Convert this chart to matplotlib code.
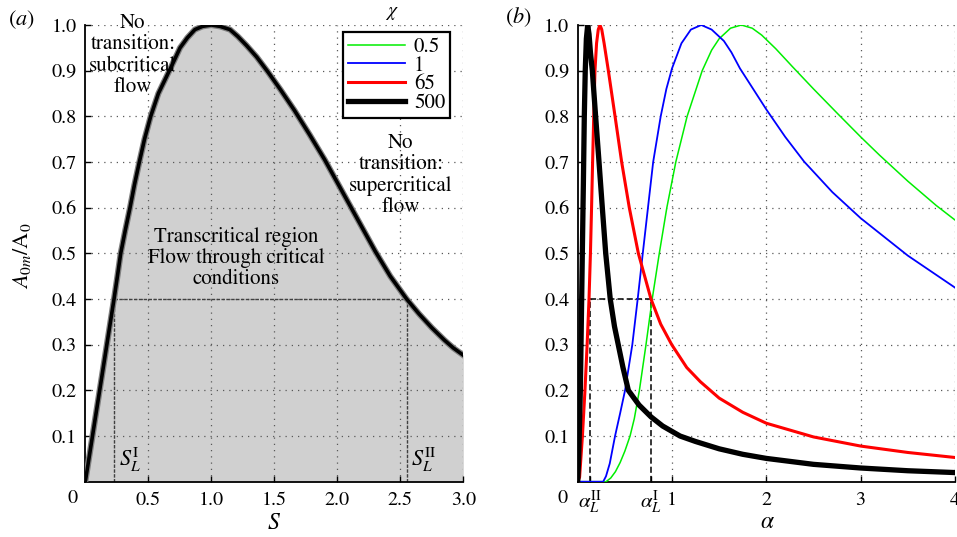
import numpy as np
import matplotlib.pyplot as plt

plt.rcParams['font.family'] = ['STIXGeneral', 'DejaVu Serif']
plt.rcParams['mathtext.fontset'] = 'stix'

# (a) A0m/A0 against S
s_vals = [0, 0.057, 0.114, 0.171, 0.228, 0.255, 0.281, 0.317, 0.355, 0.39, 0.429, 0.47,
          0.519, 0.58, 0.667, 0.71, 0.752, 0.81, 0.87, 0.93, 1.0, 1.07, 1.148, 1.21,
          1.28, 1.36, 1.45, 1.55, 1.66, 1.78, 1.90, 2.0, 2.1, 2.2, 2.3, 2.42, 2.55,
          2.65, 2.75, 2.85, 2.92, 3.0]
a_vals = [0, 0.1, 0.2, 0.3, 0.4, 0.45, 0.5, 0.55, 0.6, 0.65, 0.7, 0.75,
          0.8, 0.85, 0.9, 0.925, 0.95, 0.972, 0.99, 0.997, 1.0, 0.997, 0.99, 0.975,
          0.955, 0.93, 0.897, 0.858, 0.813, 0.76, 0.705, 0.655, 0.605, 0.555, 0.505, 0.45,
          0.4, 0.367, 0.337, 0.31, 0.293, 0.277]
s_L1, s_L2 = 0.228, 2.556

# (b) curves against alpha, one per chi
chi_labels = ['0.5', '1', '65', '500']
chi_colors = ['#00ee00', '#0000ff', '#ff0000', '#000000']
chi_widths = [1.1, 1.3, 2.2, 3.8]

al_green = [0, 0.3, 0.35, 0.4, 0.45, 0.5, 0.555, 0.6, 0.654, 0.724, 0.79, 0.865, 0.945,
            1.04, 1.16, 1.32, 1.42, 1.5, 1.62, 1.735, 1.85, 1.95, 2.1, 2.28, 2.5, 2.76,
            3.0, 3.2, 3.5, 3.8, 4.0]
v_green = [0, 0, 0.008, 0.022, 0.042, 0.067, 0.1, 0.138, 0.2, 0.3, 0.4, 0.5, 0.6,
           0.7, 0.8, 0.9, 0.945, 0.97, 0.993, 1.0, 0.993, 0.978, 0.948, 0.908, 0.86, 0.805,
           0.755, 0.715, 0.658, 0.605, 0.573]

al_blue = [0, 0.27, 0.30, 0.34, 0.396, 0.45, 0.502, 0.579, 0.636, 0.69, 0.745, 0.80, 0.88,
           0.94, 1.0, 1.1, 1.2, 1.31, 1.42, 1.55, 1.63, 1.72, 2.0, 2.2, 2.4, 2.7, 3.0, 3.5,
           4.0]
v_blue = [0, 0, 0.012, 0.04, 0.1, 0.15, 0.2, 0.3, 0.4, 0.5, 0.6, 0.7, 0.8,
          0.86, 0.905, 0.96, 0.99, 1.0, 0.99, 0.965, 0.94, 0.905, 0.815, 0.755, 0.701,
          0.634, 0.577, 0.495, 0.425]

al_red = [0, 0.02, 0.05, 0.077, 0.1, 0.12, 0.135, 0.147, 0.158, 0.17, 0.183, 0.2, 0.218,
          0.236, 0.255, 0.28, 0.325, 0.396, 0.466, 0.547, 0.643, 0.777, 0.88, 0.997, 1.156,
          1.3, 1.5, 1.75, 2.0, 2.5, 3.0, 3.5, 4.0]
v_red = [0, 0.01, 0.1, 0.2, 0.3, 0.4, 0.5, 0.6, 0.7, 0.8, 0.9, 0.96, 0.99,
         1.0, 0.99, 0.96, 0.9, 0.8, 0.7, 0.6, 0.5, 0.4, 0.345, 0.3, 0.25,
         0.219, 0.183, 0.152, 0.128, 0.098, 0.078, 0.064, 0.053]

al_black = [0, 0.01, 0.028, 0.049, 0.06, 0.07, 0.08, 0.092, 0.106, 0.12, 0.135, 0.155,
            0.19, 0.226, 0.261, 0.297, 0.345, 0.39, 0.43, 0.48, 0.537, 0.65, 0.777, 0.9,
            1.085, 1.25, 1.5, 1.75, 2.0, 2.5, 3.0, 3.5, 4.0]
v_black = [0, 0.05, 0.2, 0.5, 0.65, 0.8, 0.9, 0.97, 1.0, 0.98, 0.94, 0.9,
           0.8, 0.7, 0.6, 0.5, 0.4, 0.34, 0.3, 0.25, 0.2, 0.168, 0.142, 0.122,
           0.1, 0.088, 0.072, 0.06, 0.051, 0.038, 0.03, 0.024, 0.02]

al_L2, al_L1 = 0.13, 0.777

W, H = 957, 537
fig = plt.figure(figsize=(W / 100, H / 100), dpi=100)
ax1 = fig.add_axes([85.3 / W, 1 - 481.7 / H, 378 / W, 456.7 / H])
ax2 = fig.add_axes([577.7 / W, 1 - 481.7 / H, 377.3 / W, 456.7 / H])

grid_kw = dict(color='0.35', linestyle=(0, (1, 4)), linewidth=0.9)


def style(ax):
    for side in ['top', 'right']:
        ax.spines[side].set_visible(False)
    for side in ['left', 'bottom']:
        ax.spines[side].set_linewidth(1.3)
    ax.tick_params(which='both', direction='in', length=4, width=1, labelsize=14.5,
                   top=False, right=False)
    ax.tick_params(axis='y', pad=6)
    ax.tick_params(axis='x', pad=7)
    ax.set_ylim(0, 1.0)
    ax.set_yticks(np.arange(0.1, 1.01, 0.1))
    ax.set_yticklabels(['%.1f' % t for t in np.arange(0.1, 1.01, 0.1)])
    ax.grid(True, which='major', **grid_kw)


# panel (a)
ax1.fill_between(s_vals, a_vals, color='#d0d0d0', lw=0, zorder=1)
ax1.plot(s_vals, a_vals, color='0.5', lw=4.4, solid_joinstyle='round', zorder=3)
ax1.plot(s_vals, a_vals, color='black', lw=2.6, solid_joinstyle='round', zorder=3)
dash_a = dict(color='0.25', ls=(0, (2.5, 1)), lw=1.0, zorder=2)
ax1.plot([s_L1, s_L2], [0.4, 0.4], **dash_a)
ax1.plot([s_L1, s_L1], [0, 0.4], **dash_a)
ax1.plot([s_L2, s_L2], [0, 0.4], **dash_a)
ax1.set_xlim(0, 3.0)
style(ax1)
ax1.set_xticks([0.5, 1.0, 1.5, 2.0, 2.5, 3.0])
ax1.set_xticklabels(['0.5', '1.0', '1.5', '2.0', '2.5', '3.0'])

# panel (b)
series = [(al_green, v_green), (al_blue, v_blue), (al_red, v_red), (al_black, v_black)]
handles = []
for (xs, ys), c, w, lab in zip(series, chi_colors, chi_widths, chi_labels):
    ln, = ax2.plot(xs, ys, color=c, lw=w, label=lab, solid_joinstyle='round', zorder=3)
    handles.append(ln)
dash_b = dict(color='black', ls=(0, (4, 2)), lw=1.1, zorder=2.5)
ax2.plot([al_L2, al_L1], [0.4, 0.4], **dash_b)
ax2.plot([al_L2, al_L2], [0, 0.4], **dash_b)
ax2.plot([al_L1, al_L1], [0, 0.4], **dash_b)
ax2.set_xlim(0, 4.0)
style(ax2)
ax2.set_xticks([1, 2, 3, 4])
ax2.set_xticklabels(['1', '2', '3', '4'])
ax2.set_xticks([al_L2, al_L1], minor=True)
ax2.set_xticklabels([r'$\alpha_L^{\mathrm{II}}$', r'$\alpha_L^{\mathrm{I}}$'], minor=True)
ax2.tick_params(axis='x', which='minor', labelsize=15, pad=5)

# legend for panel (b) sits inside panel (a)
leg = ax1.legend(handles=handles, loc='upper left', bbox_to_anchor=(0.682, 0.985),
                 borderaxespad=0, fontsize=15, handlelength=2.7, handletextpad=0.45,
                 labelspacing=-0.05, borderpad=0.25, fancybox=False, framealpha=1)
leg.get_frame().set_edgecolor('black')
leg.get_frame().set_linewidth(1.6)
leg.set_zorder(5)


def ftext(x, y, s, **kw):
    fig.text(x / W, 1 - y / H, s, ha='center', va='center', **kw)


ftext(392, 13, r'$\chi$', fontsize=14)
ftext(21, 20, r'$(a)$', fontsize=16)
ftext(518, 17, r'$(b)$', fontsize=16)
ftext(133, 55, 'No\ntransition:\nsubcritical\nflow', fontsize=15, linespacing=1.1)
ftext(401, 175, 'No\ntransition:\nsupercritical\nflow', fontsize=15, linespacing=1.1)
ftext(236, 258, 'Transcritical region\nFlow through critical\nconditions', fontsize=15,
      linespacing=1.1)
ftext(130, 460, r'$S_L^{\mathrm{I}}$', fontsize=16)
ftext(424, 460, r'$S_L^{\mathrm{II}}$', fontsize=16)
ftext(73, 498, '0', fontsize=14.5)
ftext(563, 498, '0', fontsize=14.5)
ftext(274, 523, r'$S$', fontsize=17)
ftext(767, 522, r'$\alpha$', fontsize=17)
ftext(22, 256, r'$A_{0m}/\mathrm{A}_0$', fontsize=16, rotation=90)

fig.savefig('out.png', dpi=100)
